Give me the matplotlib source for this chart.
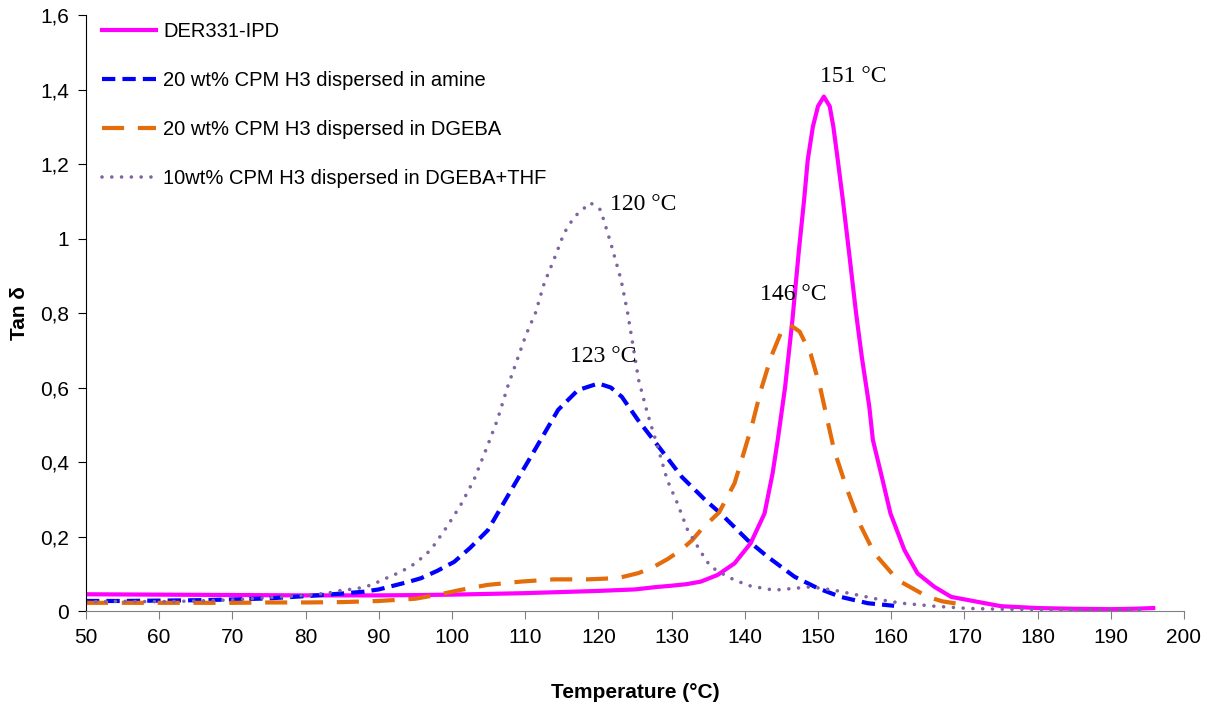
import numpy as np
import matplotlib.pyplot as plt
from matplotlib.ticker import FuncFormatter

# DER331-IPD
t_ipd = [50, 60, 70, 80, 90, 95.8, 100, 110, 120, 125, 127.7, 130, 132, 134, 136.3, 138.6,
         140.8, 142.7, 143.8, 144.5, 145.5, 146.5, 147.4, 148.1, 148.6, 149.3, 150, 150.8,
         151.6, 152.1, 152.7, 153.4, 154.2, 155.2, 156, 157, 157.5, 158.6, 159.9, 161.8,
         163.6, 165.9, 168.2, 172.8, 175, 180, 185, 190, 193, 195.8]
tan_ipd = [0.045, 0.044, 0.043, 0.042, 0.042, 0.043, 0.044, 0.048, 0.054, 0.058, 0.064, 0.068,
           0.072, 0.079, 0.097, 0.128, 0.182, 0.262, 0.37, 0.459, 0.6, 0.78, 0.97, 1.103,
           1.211, 1.3, 1.355, 1.381, 1.355, 1.3, 1.211, 1.103, 0.97, 0.8, 0.68, 0.55, 0.459,
           0.37, 0.262, 0.164, 0.101, 0.065, 0.038, 0.021, 0.013, 0.008, 0.006, 0.005, 0.006, 0.008]

# 20 wt% CPM H3 in amine
t_amine = [50, 55, 60, 65, 70, 75, 80, 85, 88, 90, 92, 94, 95.75, 98, 100.3, 102.5, 104.9,
           108.1, 111.3, 114.5, 117.2, 120, 121.7, 123.2, 125.4, 128.6, 131.4, 134.6, 136.7,
           140.4, 143.1, 146.8, 150, 153.1, 156.8, 160.4]
tan_amine = [0.027, 0.027, 0.028, 0.029, 0.031, 0.034, 0.04, 0.047, 0.052, 0.058, 0.068, 0.078,
             0.088, 0.108, 0.132, 0.17, 0.217, 0.325, 0.432, 0.54, 0.593, 0.611, 0.6, 0.575,
             0.513, 0.432, 0.36, 0.298, 0.262, 0.19, 0.146, 0.092, 0.061, 0.038, 0.021, 0.014]

# 20 wt% CPM H3 in DGEBA
t_dgeba = [50, 55, 60, 65, 70, 75, 80, 85, 90, 95, 98.4, 101, 104.8, 109.4, 113.9, 118.5, 121,
           123, 125.5, 127.6, 129.5, 131.3, 132.8, 134.2, 136.5, 138.6, 139.7, 141, 142.2,
           143.6, 144.9, 146.2, 147.5, 149, 150.3, 151.2, 152.2, 154, 155.9, 157.7, 160.9,
           165, 167, 169.6]
tan_dgeba = [0.022, 0.022, 0.022, 0.022, 0.022, 0.023, 0.023, 0.024, 0.027, 0.033, 0.045, 0.056,
             0.07, 0.079, 0.085, 0.085, 0.087, 0.09, 0.102, 0.119, 0.14, 0.164, 0.19, 0.222,
             0.265, 0.343, 0.414, 0.5, 0.593, 0.683, 0.745, 0.768, 0.75, 0.69, 0.6, 0.52,
             0.432, 0.325, 0.226, 0.155, 0.083, 0.038, 0.026, 0.018]

# 10 wt% CPM H3 in DGEBA+THF
t_thf = [50, 55, 60, 65, 70, 75, 80, 83, 85, 87, 89, 91, 93, 95, 97.1, 99.3, 101.2, 103, 104.8,
         106.2, 107.6, 108.9, 110.1, 111.4, 112.6, 113.9, 115.3, 116.7, 118.9, 120.3, 121.7,
         123.1, 124, 124.6, 125.5, 126.7, 128.1, 129.4, 130.8, 132.2, 134.4, 135.3, 136.5,
         138.6, 140.8, 144, 146.8, 149, 152.2, 155.4, 158.6, 161.4, 165.9, 170.5, 175, 180,
         185, 190, 195]
tan_thf = [0.025, 0.026, 0.025, 0.027, 0.03, 0.036, 0.042, 0.048, 0.056, 0.06, 0.07, 0.088,
           0.105, 0.128, 0.164, 0.226, 0.285, 0.352, 0.441, 0.513, 0.602, 0.674, 0.741, 0.80,
           0.88, 0.942, 1.014, 1.058, 1.096, 1.077, 0.987, 0.889, 0.80, 0.728, 0.62, 0.531,
           0.441, 0.352, 0.289, 0.217, 0.146, 0.12, 0.105, 0.083, 0.067, 0.056, 0.061, 0.065,
           0.056, 0.043, 0.03, 0.021, 0.013, 0.007, 0.005, 0.004, 0.003, 0.003, 0.004]

labels = ["DER331-IPD",
          "20 wt% CPM H3 dispersed in amine",
          "20 wt% CPM H3 dispersed in DGEBA",
          "10wt% CPM H3 dispersed in DGEBA+THF"]

peak_text = ["151 °C", "123 °C", "146 °C", "120 °C"]
peak_pos = [(150.3, 1.434), (116.1, 0.683), (142.1, 0.849), (121.6, 1.09)]

plt.rcParams['font.family'] = ['Liberation Sans', 'DejaVu Sans']

fig = plt.figure(figsize=(12.11, 7.11), dpi=100)
ax = fig.add_axes([0.071, 0.1406, 0.9067, 0.8383])

ax.plot(t_ipd, tan_ipd, color='#FF00FF', lw=3, label=labels[0])
ax.plot(t_amine, tan_amine, color='#0000FF', lw=3, dashes=(3.2, 1.7), label=labels[1])
ax.plot(t_dgeba, tan_dgeba, color='#E46C0A', lw=3, dashes=(5.3, 3.3), label=labels[2])
ax.plot(t_thf, tan_thf, color='#8064A2', lw=2.6, dashes=(0.01, 2.7),
        dash_capstyle='round', label=labels[3])

for txt, (x, y) in zip(peak_text, peak_pos):
    ax.text(x, y, txt, fontsize=17, family=['Liberation Serif', 'DejaVu Serif'],
            ha='left', va='center')

ax.set_xlim(50, 200)
ax.set_ylim(0, 1.6)
ax.set_xticks(np.arange(50, 201, 10))
ax.set_yticks(np.arange(0, 1.61, 0.2))
ax.yaxis.set_major_formatter(FuncFormatter(lambda v, p: ('%g' % round(v, 1)).replace('.', ',')))

ax.spines['top'].set_visible(False)
ax.spines['right'].set_visible(False)
ax.spines['bottom'].set_color('#808080')
ax.spines['left'].set_color('black')
ax.tick_params(axis='x', colors='#808080', labelcolor='black', labelsize=15,
               direction='out', length=6, pad=6)
ax.tick_params(axis='y', colors='black', labelsize=15, direction='out', length=6, pad=6)

ax.set_xlabel("Temperature (°C)", fontsize=15, fontweight='bold', labelpad=26)
ax.set_ylabel("Tan δ", fontsize=15, fontweight='bold', labelpad=8)

ax.legend(loc='upper left', bbox_to_anchor=(0.0146, 0.9886), frameon=False, fontsize=14.5,
          handlelength=2.7, handletextpad=0.35, labelspacing=1.5, borderpad=0,
          borderaxespad=0)

fig.savefig("out.png", dpi=100)
